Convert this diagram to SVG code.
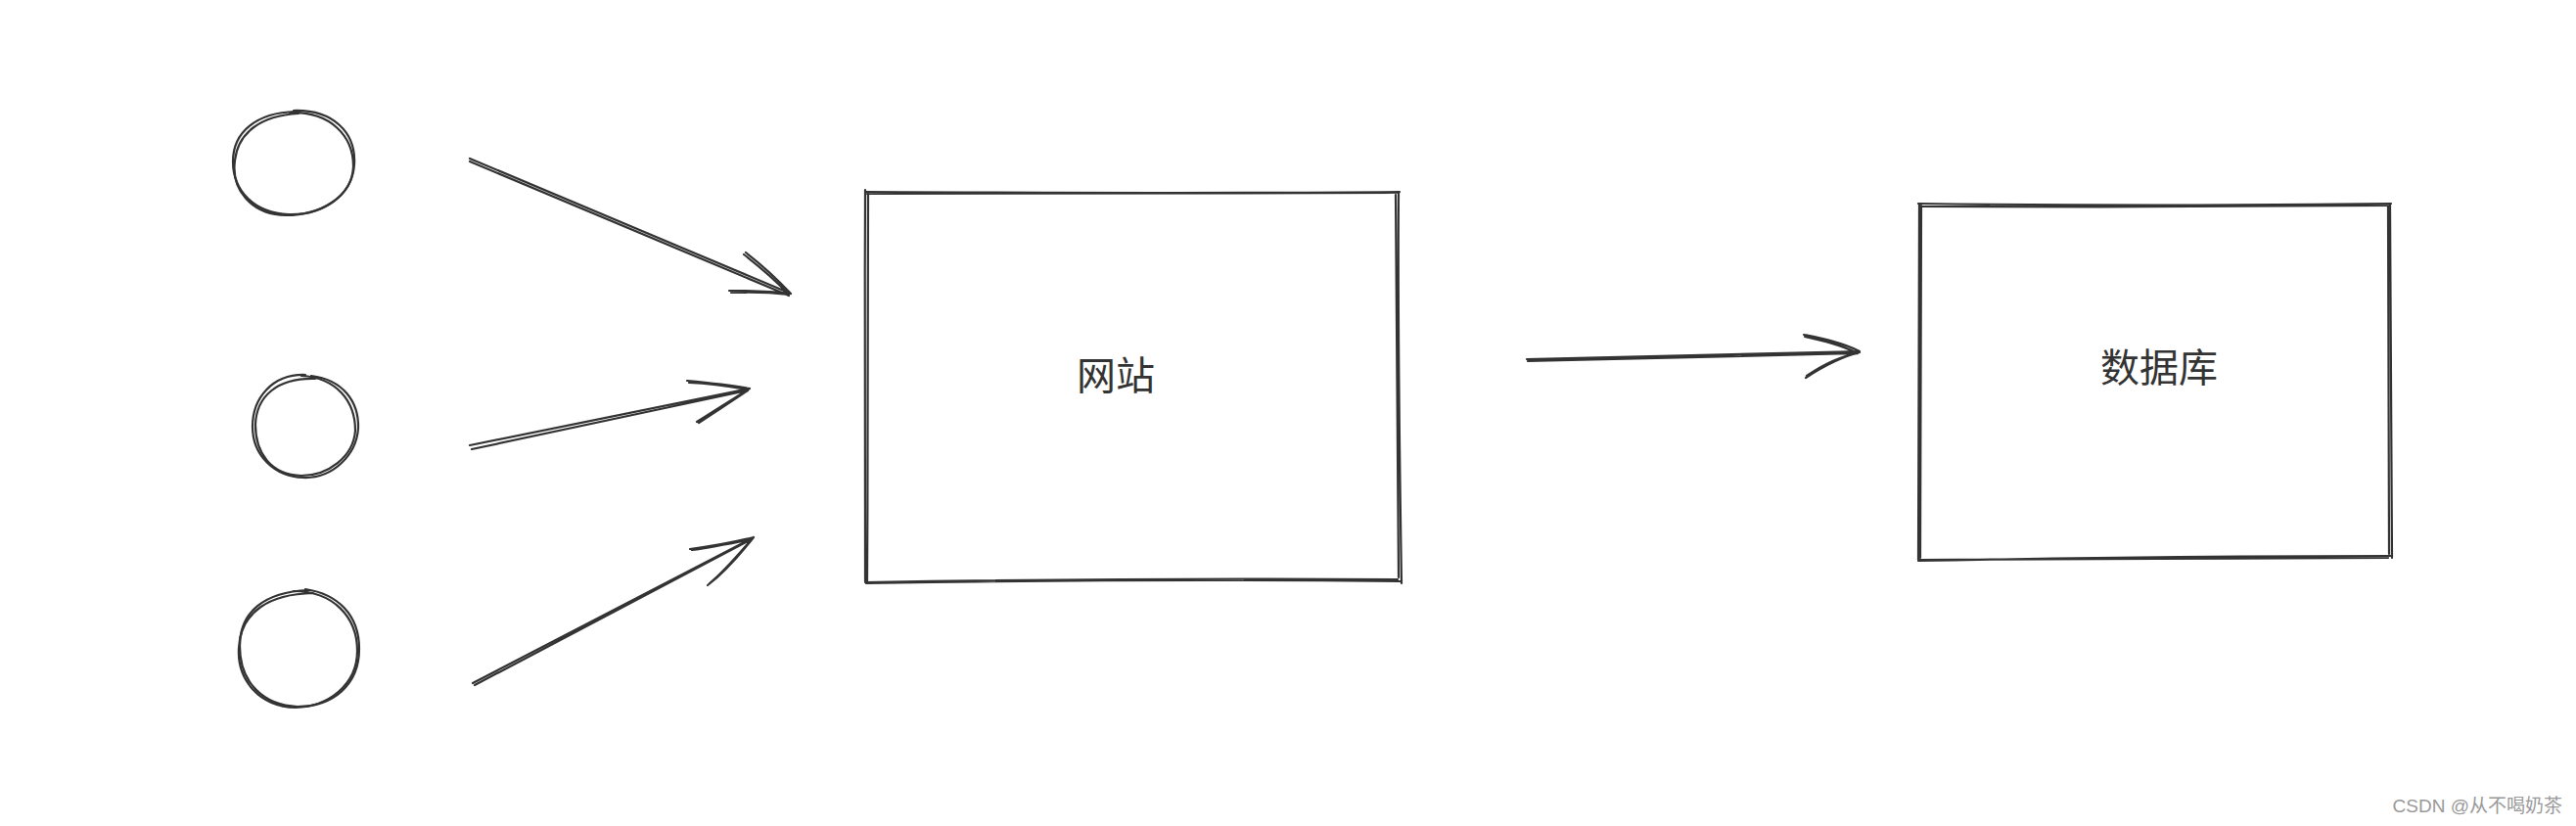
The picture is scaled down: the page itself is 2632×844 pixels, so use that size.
<svg xmlns="http://www.w3.org/2000/svg" width="2632" height="844" viewBox="0 0 2632 844">
<style>
.s{fill:none;stroke:#333;stroke-width:2.2;stroke-linecap:round;stroke-linejoin:round}
.t{font-family:"Noto Sans CJK SC","Noto Sans",sans-serif;font-size:40px;fill:#333;text-anchor:middle;dominant-baseline:central}
.w{font-family:"Liberation Sans","Noto Sans CJK SC",sans-serif;font-size:19px;fill:#999;text-anchor:end}
</style>
<rect width="2632" height="844" fill="#fff"/>
<g id="user1">
<path class="s" d="M300,113 C340,112 364,135 362,168 C360,200 330,220 295,219 C260,218 238,195 238,165 C238,135 262,115 302,114"/>
<path class="s" d="M296,115 C338,114 361,139 361,170 C360,202 326,220 292,220 C256,219 236,193 240,164 C243,136 266,118 305,116"/>
</g>
<g id="user2">
<path class="s" d="M318,384 C350,388 367,410 366,438 C364,465 340,489 310,488 C280,487 258,465 258,436 C258,407 278,382 312,383"/>
<path class="s" d="M308,384 C344,386 363,410 363,440 C361,467 335,486 308,486 C276,485 261,462 261,434 C262,405 283,386 322,387"/>
</g>
<g id="user3">
<path class="s" d="M312,602 C345,607 367,628 367,663 C367,700 340,722 304,722 C270,721 245,698 245,660 C245,625 270,605 315,603"/>
<path class="s" d="M300,604 C340,604 365,630 365,665 C365,700 335,722 302,723 C265,722 242,695 244,662 C246,625 275,607 320,606"/>
</g>
<g id="website">
<path class="s" d="M884,196 C1060,197 1250,198 1430,196 M886,198 C1080,198 1260,199 1428,197"/>
<path class="s" d="M1429,197 C1428,330 1430,470 1432,596 M1426,199 C1426,340 1427,480 1429,590"/>
<path class="s" d="M1431,594 C1250,592 1060,593 885,596 M1428,592 C1240,591 1070,592 884,595"/>
<path class="s" d="M884,594 C885,470 883,330 884,194 M886,596 C887,460 886,320 887,198"/>
<text class="t" x="1140" y="381">网站</text>
</g>
<g id="database">
<path class="s" d="M1960,208 C2120,210 2280,210 2443,208 M1961,211 C2120,212 2290,211 2442,210"/>
<path class="s" d="M2442,208 C2442,330 2443,450 2444,570 M2440,211 C2440,340 2440,460 2441,566"/>
<path class="s" d="M2443,568 C2280,568 2120,570 1960,573 M2440,570 C2290,570 2110,572 1961,572"/>
<path class="s" d="M1960,572 C1960,450 1961,330 1961,208 M1962,570 C1962,440 1962,320 1963,210"/>
<text class="t" x="2206" y="373">数据库</text>
</g>
<g id="connectors">
<path class="s" d="M480,162 L808,300 M480,165 L806,302 M762,258 C780,272 795,286 808,300 M760,260 C778,274 794,288 806,301 M745,297 C770,297 790,298 808,300 M747,299 C768,298 790,299 806,301"/>
<path class="s" d="M480,455 L766,397 M482,459 L764,399 M702,389 C725,391 745,393 766,397 M704,391 C726,392 746,395 764,398 M712,431 C730,420 748,408 766,397 M714,432 C732,420 748,410 764,399"/>
<path class="s" d="M483,698 L770,549 M485,700 L768,551 M705,561 C728,558 750,554 770,549 M707,562 C728,559 748,555 768,551 M723,598 C740,585 755,568 770,549 M725,596 C740,584 754,567 768,551"/>
<path class="s" d="M1560,367 L1900,359 M1561,369 L1898,361 M1843,342 C1862,346 1882,350 1900,359 M1844,344 C1862,348 1880,352 1898,361 M1845,386 C1862,375 1880,365 1900,360 M1846,384 C1862,373 1880,364 1898,361"/>
</g>
<text class="w" x="2618" y="830">CSDN @从不喝奶茶</text>
</svg>
